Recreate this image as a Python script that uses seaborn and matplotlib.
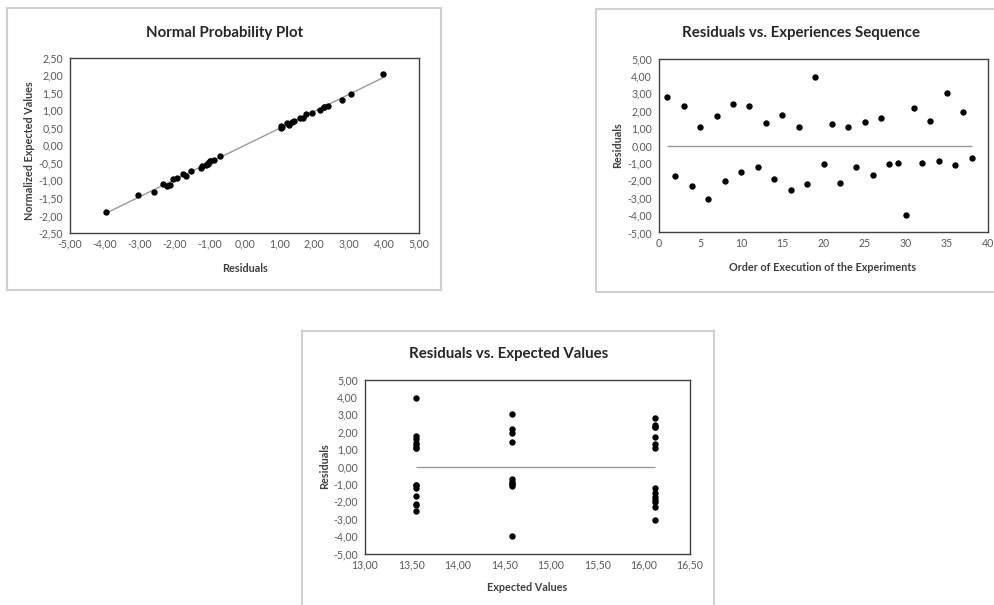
import numpy as np
import pandas as pd
import seaborn as sns
import matplotlib
matplotlib.use("Agg")
import matplotlib.pyplot as plt
from matplotlib.patches import Rectangle
from matplotlib.ticker import FuncFormatter, MultipleLocator

# ---------------- data ----------------
# residuals in order of execution (experiments 1..38)
order = list(range(1, 39))
residuals = [2.79, -1.75, 2.29, -2.33, 1.08, -3.06, 1.67, -2.04, 2.40, -1.54,
             2.29, -1.23, 1.27, -1.92, 1.75, -2.58, 1.04, -2.23, 3.96, -1.06,
             1.23, -2.13, 1.04, -1.25, 1.35, -1.67, 1.58, -1.04, -0.98, -3.98,
             2.15, -0.98, 1.42, -0.87, 3.04, -1.10, 1.92, -0.69]
# expected (fitted) value of each experiment
expected = [16.12] * 14 + [13.55] * 14 + [14.58] * 10

# normal probability plot: sorted residuals vs normalized expected values
npp_residuals = [-3.98, -3.06, -2.58, -2.33, -2.23, -2.13, -2.04, -1.92, -1.75, -1.67,
                 -1.54, -1.25, -1.23, -1.10, -1.06, -1.04, -0.98, -0.98, -0.87, -0.69,
                 1.04, 1.04, 1.08, 1.23, 1.27, 1.35, 1.42, 1.58, 1.67, 1.75,
                 1.92, 2.15, 2.29, 2.29, 2.40, 2.79, 3.04, 3.96]
npp_normalized = [-1.90, -1.42, -1.33, -1.11, -1.17, -1.12, -0.97, -0.93, -0.82, -0.87,
                  -0.73, -0.66, -0.60, -0.56, -0.53, -0.50, -0.46, -0.44, -0.42, -0.32,
                  0.55, 0.49, 0.53, 0.63, 0.58, 0.66, 0.70, 0.77, 0.77, 0.90,
                  0.92, 1.01, 1.08, 1.08, 1.12, 1.30, 1.45, 2.02]

titles = ["Normal Probability Plot", "Residuals vs. Experiences Sequence",
          "Residuals vs. Expected Values"]

df_seq = pd.DataFrame({"order": order, "res": residuals, "exp": expected})
df_npp = pd.DataFrame({"x": npp_residuals, "y": npp_normalized})

# ---------------- style ----------------
sns.set_style("white")
plt.rcParams["font.family"] = ["Lato", "DejaVu Sans"]

W, H = 994, 605
fig = plt.figure(figsize=(W / 100, H / 100), dpi=100)
fig.patch.set_facecolor("white")

def fx(px):
    return px / W

def fy(py):
    return 1 - py / H

def add_axes_px(x0, x1, y0, y1):
    return fig.add_axes([fx(x0), fy(y1), fx(x1 - x0), (y1 - y0) / H])

def box(x0, x1, y0, y1):
    fig.patches.append(Rectangle((fx(x0), fy(y1)), fx(x1 - x0), (y1 - y0) / H,
                                 transform=fig.transFigure, fill=False,
                                 edgecolor="#D0D0D0", linewidth=1.5, zorder=0))

TICK_C = "#595959"
SPINE_C = "#404040"
LINE_C = "#9A9A9A"
MS = 21

def comma_fmt(v, pos=None):
    if abs(v) < 1e-9:
        v = 0.0
    return f"{v:.2f}".replace(".", ",")

def int_fmt(v, pos=None):
    return f"{int(round(v))}"

def style_ax(ax):
    for s in ax.spines.values():
        s.set_visible(True)
        s.set_color(SPINE_C)
        s.set_linewidth(1.0)
    ax.tick_params(axis="both", direction="in", length=2.5, width=0.8,
                   color=SPINE_C, labelcolor=TICK_C, labelsize=7.6)
    ax.tick_params(axis="x", pad=4)
    ax.tick_params(axis="y", pad=5)
    ax.grid(False)

def labels(ax, xl, yl, xc, yc):
    ax.set_xlabel(xl, fontsize=7.8, fontweight="bold", color="#404040", va="center")
    ax.set_ylabel(yl, fontsize=7.8, fontweight="bold", color="#404040", va="center")
    ax.xaxis.set_label_coords(*xc)
    ax.yaxis.set_label_coords(*yc)

# boxes
box(7, 441, 8, 290)
box(596, 1000, 9, 292)
box(302, 714, 331, 620)

# ---------------- panel 1: normal probability plot ----------------
ax1 = add_axes_px(70, 419, 57.5, 233)
sns.regplot(data=df_npp, x="x", y="y", ax=ax1, scatter=False, ci=None, truncate=True,
            line_kws={"color": LINE_C, "linewidth": 1.0})
sns.scatterplot(data=df_npp, x="x", y="y", ax=ax1, color="black", s=MS,
                linewidth=0, zorder=3)
ax1.set_xlim(-5, 5)
ax1.set_ylim(-2.5, 2.5)
ax1.xaxis.set_major_locator(MultipleLocator(1))
ax1.yaxis.set_major_locator(MultipleLocator(0.5))
ax1.xaxis.set_major_formatter(FuncFormatter(comma_fmt))
ax1.yaxis.set_major_formatter(FuncFormatter(comma_fmt))
style_ax(ax1)
labels(ax1, "Residuals", "Normalized Expected Values", (0.5, -0.20), (-0.115, 0.472))
fig.text(fx(224.5), fy(33.3), titles[0], ha="center", va="center",
         fontsize=10.8, fontweight="bold", color="#262626")

# ---------------- panel 2: residuals vs sequence ----------------
ax2 = add_axes_px(659, 988, 58.5, 232.5)
ax2.hlines(0, df_seq["order"].min(), df_seq["order"].max(), color=LINE_C, linewidth=1.0)
sns.scatterplot(data=df_seq, x="order", y="res", ax=ax2, color="black", s=MS,
                linewidth=0, zorder=3)
ax2.set_xlim(0, 40)
ax2.set_ylim(-5, 5)
ax2.xaxis.set_major_locator(MultipleLocator(5))
ax2.yaxis.set_major_locator(MultipleLocator(1))
ax2.xaxis.set_major_formatter(FuncFormatter(int_fmt))
ax2.yaxis.set_major_formatter(FuncFormatter(comma_fmt))
style_ax(ax2)
labels(ax2, "Order of Execution of the Experiments", "Residuals", (0.4985, -0.204), (-0.126, 0.503))
fig.text(fx(801), fy(33.3), titles[1], ha="center", va="center",
         fontsize=10.8, fontweight="bold", color="#262626")

# ---------------- panel 3: residuals vs expected ----------------
ax3 = add_axes_px(365, 690, 379.5, 553.5)
ax3.hlines(0, df_seq["exp"].min(), df_seq["exp"].max(), color=LINE_C, linewidth=1.0)
sns.scatterplot(data=df_seq, x="exp", y="res", ax=ax3, color="black", s=MS,
                linewidth=0, zorder=3)
ax3.set_xlim(13, 16.5)
ax3.set_ylim(-5, 5)
ax3.xaxis.set_major_locator(MultipleLocator(0.5))
ax3.yaxis.set_major_locator(MultipleLocator(1))
ax3.xaxis.set_major_formatter(FuncFormatter(comma_fmt))
ax3.yaxis.set_major_formatter(FuncFormatter(comma_fmt))
style_ax(ax3)
labels(ax3, "Expected Values", "Residuals", (0.5, -0.198), (-0.125, 0.502))
fig.text(fx(508.3), fy(354.3), titles[2], ha="center", va="center",
         fontsize=10.8, fontweight="bold", color="#262626")

fig.savefig("out.png", dpi=100, facecolor="white")
